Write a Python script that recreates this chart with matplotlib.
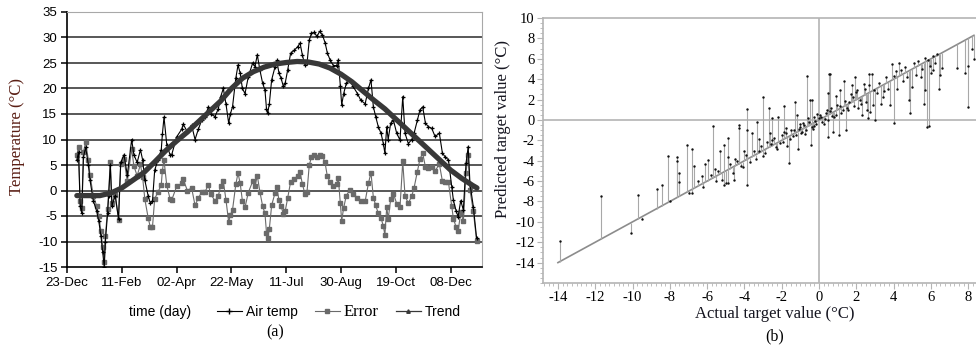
import numpy as np
import matplotlib
matplotlib.use('Agg')
import matplotlib.pyplot as plt
from matplotlib.lines import Line2D
from matplotlib.ticker import MultipleLocator

plt.rcParams['axes.unicode_minus'] = False

# ---- panel (a): daily air temperature, error and trend (day 0 = 23-Dec)
air_day = [9, 10.5, 12, 13.5, 15, 17, 19.5, 21, 24, 27, 29, 31, 32.5, 34, 35, 37, 38, 39.5,
           41, 44, 47, 49, 52, 55, 59, 61, 64, 67, 69, 71, 74, 76, 78, 80, 83, 86, 87, 88.5,
           91, 94, 95.5, 100, 104.6, 106, 109.8, 113.7, 116.8, 119.8, 122.9, 126, 129, 131,
           135, 138, 140.2, 142.6, 145, 147.5, 149, 151, 154, 156, 158, 160, 162.4, 165.4,
           169.4, 171.5, 173.6, 176, 178.5, 180.6, 182, 183, 184.6, 186.7, 189.8, 191.3,
           193.4, 195.3, 197.4, 199, 201.3, 204, 207.4, 210.4, 212.6, 214.7, 217, 219, 221,
           223, 225.7, 228, 230.5, 233, 235.4, 237.5, 240, 243, 246, 247.5, 249.4, 250.6,
           252.4, 254.8, 258, 261, 265, 268, 272, 275, 277.3, 279.5, 281.6, 284, 286.5,
           288.6, 290, 291.7, 293, 295.3, 297.8, 300.8, 303.8, 306.3, 308.4, 311.4, 314.5,
           316.6, 319.6, 322, 324.5, 327, 329.7, 332.7, 335.8, 339.7, 342.5, 345, 348, 351,
           352.5, 355, 356.8, 359.2, 361.6, 364, 366, 367.6, 370.7, 373.7]
air_temp = [6, 7.5, -3, -4.5, 6.5, 8.5, 5, 2, -2, -4, -6, -9, -12, -15, -10, -4.5, -1, 5,
            -3, -1, -5.5, 5.5, 7, 3, 10, 7, 5.5, 8, 6, 2, -1, -2.5, -2, 4, 6, 8, 11, 14.4,
            9, 7, 7, 10.5, 12, 13, 11.5, 12.8, 10, 12, 13.8, 14.5, 16.4, 15,
            14.5, 16, 18.4, 20, 17, 13.2, 15, 16.4, 22, 24.6, 23, 20, 19, 22.3,
            25, 24.3, 26.6, 23.6, 21, 19.7, 16, 15.1, 17, 21.7, 24.3, 25.5,
            23, 22, 20.4, 21, 23.6, 26.9, 27.5, 28.2, 28.9, 26.6, 24.6, 25, 29.5,
            30.8, 31, 30.2, 31.2, 30.5, 29, 27, 25.6, 24.5, 24.5, 25.6, 20.4, 16.8,
            19, 21, 21.7, 20.4, 19, 17.7, 17, 20, 21.7, 16.4, 14.5, 12.5, 11.2,
            9.2, 7.3, 12.5, 10, 13.2, 13.8, 11.2, 9.9, 18.4, 11.2, 9.2, 10,
            11.2, 13.8, 15.8, 16.4, 13.2, 12.5, 12.2, 10.6, 11.2, 7.3, 6.6, 6, 0.7,
            -1.9, -4, -5.1, -2, -3.8, 5.3, 8.6, 1.4, -3.2, -9.4]
err_val = [7, 8.5, -2, -3.5, 7.5, 9.5, 6, 3, -1, -3, -5, -8, -11, -14, -9, -3.7, -0.3, 5.6,
           -2.4, -0.9, -5.7, 5.1, 6.2, 1.8, 8.2, 4.8, 2.9, 5.1, 2.6, -1.7, -5.3, -7.2, -7.1,
           -1.6, -0.3, 1.1, 3.9, 6, 1, -1.6, -1.9, 0.8, 1.4, 2.2, 0, 0.5, -2.9, -1.5, -0.3,
           -0.2, 1.1, -0.7, -2, -1.1, 0.9, 1.8, -1.8, -6.2, -4.8, -3.8, 1.2, 3.4, 1.4, -2,
           -3.3, -0.4, 1.8, 0.8, 2.9, -0.3, -3.1, -4.5, -8.3, -9.3, -7.5, -2.9, -0.5, 0.7,
           -1.9, -3, -4.7, -4.1, -1.5, 1.7, 2.2, 2.9, 3.6, 1.3, -0.6, -0.2, 5,
           6.5, 7, 6.5, 7, 6.8, 5.5, 2.8, 1.6, 0.8, 1.2, 2.5, -2.5, -5.9,
           -3.4, -1, 0.1, -0.7, -1.4, -2.1, -2.1, 1.4, 3.5, -1.4, -2.9, -4.5, -5.4,
           -7, -8.7, -3.2, -5.6, -1.7, -0.6, -2.6, -3.3, 5.7, -1.1, -2.5, -1.1,
           0.5, 3.7, 6.2, 7.3, 4.6, 4.4, 4.7, 3.8, 5.2, 1.8, 1.6, 1.6, -3.1,
           -5.5, -7.2, -8, -4.3, -6, 3.5, 7, 0.1, -4.1, -9.9]
trend_day = [9, 20, 30, 40, 50, 60, 70, 80, 90, 100, 110, 120, 130, 140, 150, 160, 170,
             180, 190, 200, 210, 220, 230, 240, 250, 260, 270, 280, 290, 300, 310, 320,
             330, 340, 350, 360, 370, 374]
trend_val = [-1, -1, -1, -0.5, 0.5, 2, 3.5, 5.6, 7.8, 9.7, 11.5, 13.5, 15.5, 17.5, 20, 22,
             23.3, 24.2, 24.8, 25.1, 25.3, 25.2, 24.8, 24, 22.8, 21.3, 19.5, 17.7, 16, 14,
             12, 10, 8, 6, 4, 2.4, 1, 0.5]
tick_days = [0, 50, 100, 150, 200, 250, 300, 350]
tick_names = ['23-Dec', '11-Feb', '02-Apr', '22-May', '11-Jul', '30-Aug', '19-Oct', '08-Dec']

# ---- panel (b): actual vs predicted target value
actual = [-13.9, -11.7, -10.1, -9.7, -9.5, -8.7, -8.4, -8.0, -8.1, -7.6, -7.6, -7.5, -7.5,
          -7.1, -7.0, -6.8, -6.8, -6.7, -6.3, -6.1, -5.95, -5.7, -5.6, -5.3, -5.2, -5.1,
          -5.1, -5.0, -4.9, -4.9, -4.9, -4.55, -4.5, -4.3, -4.3, -4.2, -4.0, -3.84, -3.84,
          -3.84, -3.6, -3.5, -3.34, -3.2, -3.2, -3.0, -3.0, -2.8, -2.7, -2.64, -2.6, -2.55,
          -2.4, -2.27, -2.2, -2.1, -2.0, -1.9, -1.9, -1.8, -1.7, -1.6, -1.5, -1.4, -1.3,
          -1.2, -1.15, -1.1, -1.0, -0.9, -0.8, -0.75, -0.66, -0.6, -0.5, -0.45, -0.4,
          -0.37, -0.3, -0.2, -0.1, 0.0, 0.1, 0.25, 0.3, 0.4, 0.5, 0.5, 0.55, 0.6, 0.6,
          0.7, 0.77, 0.9, 0.9, 1.05, 1.1, 1.12, 1.3, 1.36, 1.46, 1.5, 1.6, 1.75, 1.8,
          1.93, 2.0, 2.1, 2.2, 2.3, 2.4, 2.5, 2.6, 2.7, 2.85, 2.9, 2.95, 3.0, 3.1, 3.3,
          3.5, 3.8, 3.9, 4.0, 4.0, 4.2, 4.3, 4.5, 4.7, 4.8, 4.85, 5.0, 5.2, 5.5, 5.6,
          5.7, 5.77, 5.85, 5.9, 6.0, 6.1, 6.1, 6.43, 6.6, 7.4, 7.8, 8.0, 8.0, 8.2, 8.3,
          -6.5, -6.2, -5.8, -5.5, -5.4, -4.8, -4.6, -4.4, -4.1, -3.9, -3.7, -3.4, -3.1,
          -2.9, -2.5, -2.3, -1.95, -1.75, -1.55, -1.35, -1.25, -1.05, -0.95, -0.85, -0.7,
          -0.55, -0.35, -0.25, -0.15, 0.05, 0.15, 0.35, 0.45, 0.65, 0.8, 0.95, 1.2, 1.4,
          1.55, 1.7, 1.85, 2.05, 2.25, 2.45, 2.55, 2.65, 2.75, 3.2, 3.4, 3.6, 3.7, 4.1,
          4.4, 4.6, 5.1, 5.3, 5.45, 5.65, 5.95, 6.2, 6.3, 6.5]
predicted = [-11.9, -7.5, -11.05, -7.35, -9.7, -6.8, -6.4, -8.0, -3.5, -3.6, -4.0, -5.2, -6.1,
             -2.5, -7.2, -2.9, -7.2, -4.5, -5.5, -4.3, -3.9, -0.6, -4.8, -3.0, -5.9, -2.5,
             -6.4, -6.2, -3.6, -1.8, -6.2, -5.9, -3.8, -0.8, -0.5, -4.5, -3.0, -6.4, 1.05,
             -1.0, -1.3, -3.0, -0.2, -1.9, -3.0, 2.2, -3.5, -2.2, 1.2, -1.3, -2.4, 0.2,
             -1.8, -2.9, 0.33, -2.3, -1.5, 1.4, -1.2, -0.8, -2.6, -4.25, -1.0, -1.6, 1.8,
             0.5, -2.9, -0.9, -0.4, -1.2, -0.5, -1.4, 4.3, 0.2, 2.0, -2.45, -0.7,
             2.0, -0.6, -0.1, 0.6, 0.2, 0.3, -0.4, 0.1, 1.0, 2.6, -1.7, 4.5, 4.5, 0.9,
             0.4, -1.2, 2.3, 0.5, -1.5, 1.4, 2.9, 1.0, 3.85, -1.0, 1.2, 1.8, 3.4, 2.2,
             4.2, 2.7, 1.2, 2.0, 0.5, 3.5, 1.8, 0.2, 4.5, 4.5, 1.5, 2.9, 0.0, 2.6, 1.6,
             2.8, 1.5, 5.5, 4.3, -0.26, 3.0, 5.6, 3.8, 4.2, 2.0, 0.7, 3.2, 4.4, 5.0, 1.6,
             2.9, -0.7, 5.9, -0.6, 4.6, 6.3, 4.9, 3.0, 5.1, 5.1, 4.6, 1.25, 5.3, 7.0, 6.0,
             -6.0, -6.6, -5.4, -6.0, -5.0, -4.3, -5.2, -4.0, -4.6, -3.4, -4.1, -3.8, -2.6,
             -3.2, -2.0, -2.7, -2.2, -1.3, -1.9, -1.0, -1.5, -0.7, -1.3, -0.3, -1.0,
             -0.2, -0.9, 0.3, -0.4, 0.5, -0.2, 0.7, 0.0, 1.2, 0.3, 1.5, 0.7, 1.9,
             1.0, 2.5, 1.4, 2.9, 1.6, 3.0, 1.0, 3.4, 0.8, 3.6, 2.2, 4.2, 3.0, 4.8,
             4.9, 5.2, 5.6, 5.8, 4.2, 6.1, 5.3, 5.6, 6.5, 4.4]

sans = 'Liberation Sans'
serif = 'Liberation Serif'

fig = plt.figure(figsize=(9.76, 3.46), dpi=100)

# ---------------- panel (a)
ax = fig.add_axes([67 / 976, 1 - 267 / 346, 415 / 976, 255 / 346])
for v in range(-10, 35, 5):
    ax.axhline(v, color='#4a4a4a', lw=1.3, zorder=1)
ax.plot(air_day, air_temp, color='black', lw=0.8, marker='+', ms=3.5, mew=0.9, zorder=3)
ax.plot(air_day, err_val, color='#6a6a6a', lw=0.8, marker='s', ms=2.2, zorder=2)
ax.plot(trend_day, trend_val, color='#383838', lw=3.8, solid_capstyle='round', zorder=4)
ax.set_xlim(0, 378.6)
ax.set_ylim(-15, 35)
ax.set_yticks(range(-15, 40, 5))
ax.set_xticks(tick_days)
ax.set_xticklabels(tick_names)
for s in ['top', 'right']:
    ax.spines[s].set_color('#a8a8a8')
for s in ['left', 'bottom']:
    ax.spines[s].set_color('black')
    ax.spines[s].set_linewidth(1.2)
ax.tick_params(direction='out', length=4, width=1.1, labelsize=9.5, pad=3)
for lab in ax.get_xticklabels() + ax.get_yticklabels():
    lab.set_fontfamily(sans)
ax.set_ylabel('Temperature (°C)', family=serif, fontsize=12, color='#5a1e14')
ax.yaxis.set_label_coords(-0.1, 0.51)
ax.set_xlabel('time (day)', family=sans, fontsize=10)
ax.xaxis.set_label_coords(0.224, -0.15)

handles = [Line2D([], [], color='black', lw=0.8, marker='+', ms=4),
           Line2D([], [], color='#6a6a6a', lw=0.8, marker='s', ms=2.2),
           Line2D([], [], color='#383838', lw=0.9, marker='^', ms=2.5)]
leg = ax.legend(handles, ['Air temp', 'Error', 'Trend'], ncol=3, frameon=False,
                loc='center', bbox_to_anchor=(0.655, -0.176), handlelength=1.8,
                columnspacing=1.2, handletextpad=0.3, prop={'family': sans, 'size': 10})
leg.get_texts()[1].set_fontfamily(serif)
leg.get_texts()[1].set_fontsize(12)
fig.text(275 / 976, 1 - 332 / 346, '(a)', family=serif, fontsize=11.5, ha='center', va='center')

# ---------------- panel (b)
bx = fig.add_axes([543 / 976, 1 - 283 / 346, 433 / 976, 265 / 346])
bx.set_xlim(-14.8, 8.41)
bx.set_ylim(-16, 10)
bx.axhline(0, color='#b4b4b4', lw=1.2, zorder=1)
bx.axvline(0, color='#b4b4b4', lw=1.2, zorder=1)
bx.plot([-14, 8.3], [-14, 8.3], color='#8c8c8c', lw=1.2, zorder=2)
bx.vlines(actual, actual, predicted, color='#a8a8a8', lw=0.8, zorder=2)
bx.scatter(actual, predicted, s=3, color='#111111', zorder=3, linewidths=0)
bx.set_xticks(range(-14, 10, 2))
bx.set_yticks(range(-14, 12, 2))
bx.xaxis.set_minor_locator(MultipleLocator(0.25))
bx.yaxis.set_minor_locator(MultipleLocator(0.5))
bx.spines['right'].set_visible(False)
for s in ['top', 'left', 'bottom']:
    bx.spines[s].set_color('#b4b4b4')
    bx.spines[s].set_linewidth(1.2)
bx.tick_params(which='major', direction='out', length=4, color='#b4b4b4', labelsize=10.5, pad=2)
bx.tick_params(which='minor', direction='out', length=2, color='#b4b4b4')
for lab in bx.get_xticklabels() + bx.get_yticklabels():
    lab.set_fontfamily(serif)
bx.set_ylabel('Predicted target value (°C)', family=serif, fontsize=12, color='#151520')
bx.yaxis.set_label_coords(-0.075, 0.58)
bx.set_xlabel('Actual target value (°C)', family=serif, fontsize=12, color='#151520')
bx.xaxis.set_label_coords(0.536, -0.085)
fig.text(775 / 976, 1 - 336 / 346, '(b)', family=serif, fontsize=11.5, ha='center', va='center')

fig.savefig('out.png', dpi=100)
